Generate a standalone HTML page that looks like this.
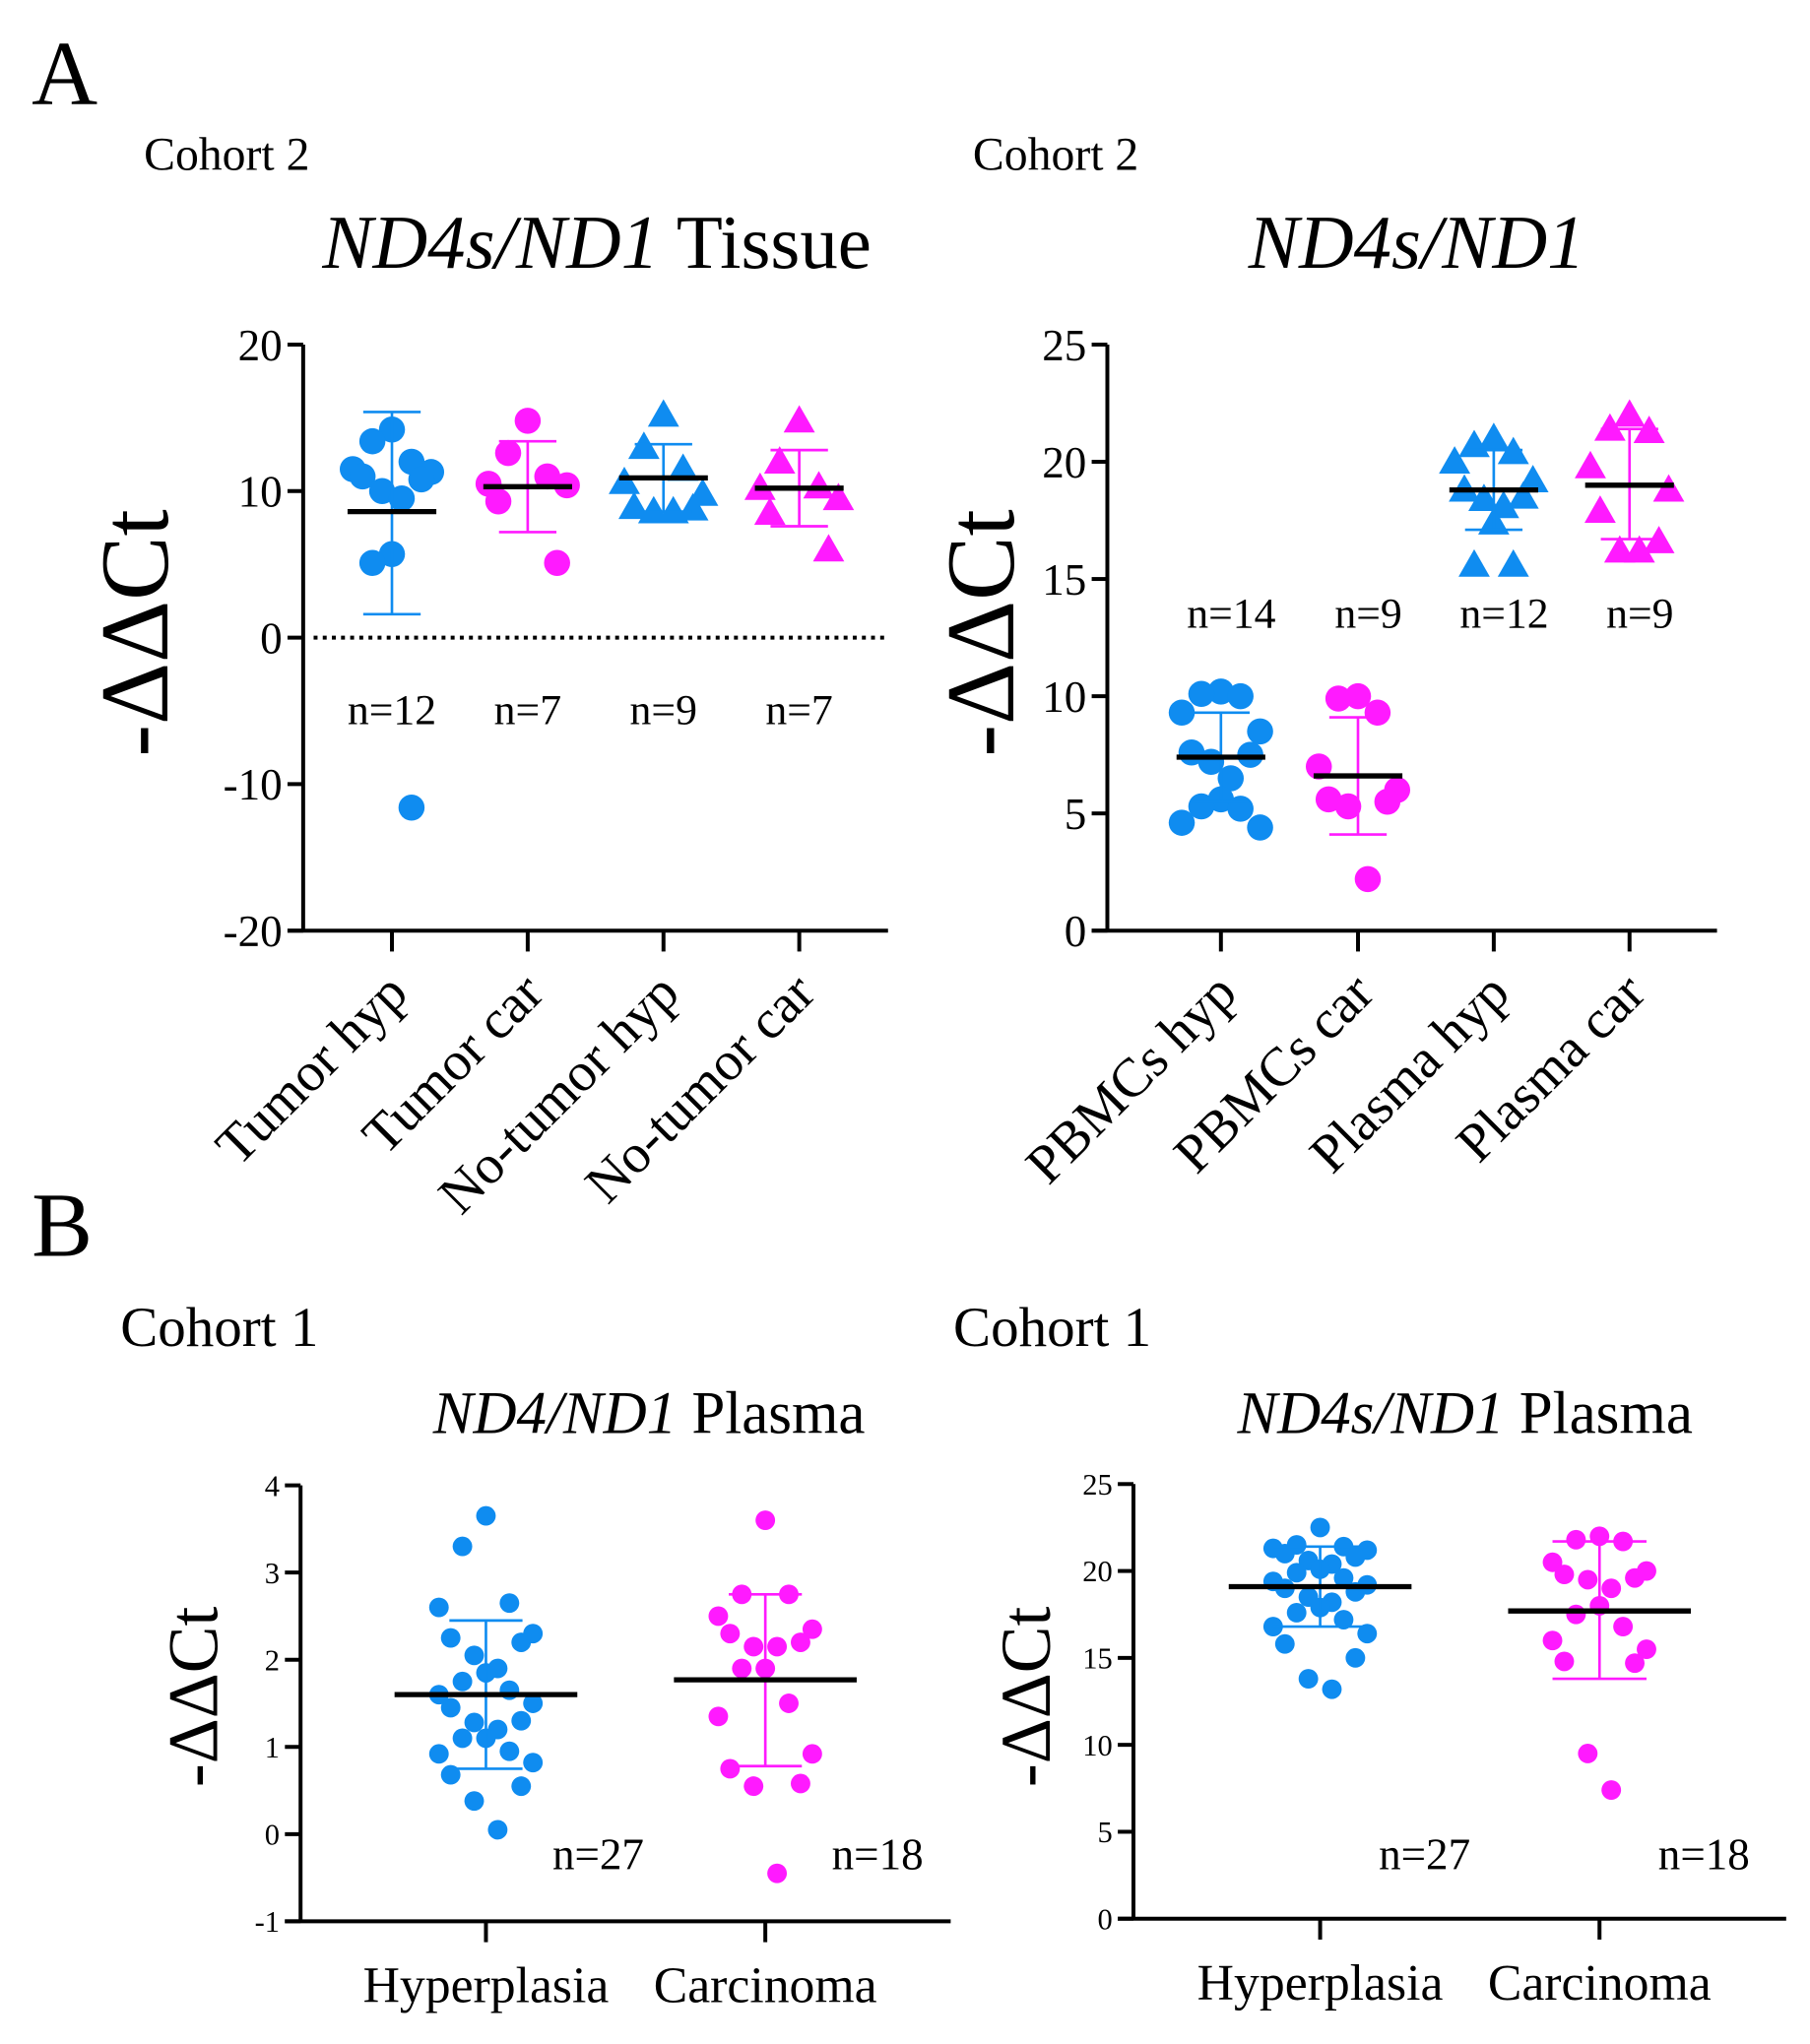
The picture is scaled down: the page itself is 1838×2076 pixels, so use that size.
<!DOCTYPE html>
<html><head><meta charset="utf-8"><style>
html,body{margin:0;padding:0;background:#fff}
svg{display:block}
text{font-family:"Liberation Serif","DejaVu Serif",serif;fill:#000}
</style></head><body>
<svg id="fig" width="1838" height="2076" viewBox="0 0 1386 1566" xmlns="http://www.w3.org/2000/svg">
<text x="24" y="80" font-size="70">A</text>
<text x="24" y="962" font-size="70">B</text>
<text x="110" y="130" font-size="36">Cohort 2</text>
<text x="745" y="130" font-size="36">Cohort 2</text>
<text x="92" y="1031" font-size="43">Cohort 1</text>
<text x="730" y="1031" font-size="43">Cohort 1</text>
<text x="457" y="205" font-size="58" text-anchor="middle"><tspan font-style="italic">ND4s/ND1</tspan> Tissue</text>
<text x="1085" y="205" font-size="58" text-anchor="middle" font-style="italic">ND4s/ND1</text>
<text x="497" y="1098" font-size="46" text-anchor="middle"><tspan font-style="italic">ND4/ND1</tspan> Plasma</text>
<text x="1122" y="1098" font-size="46" text-anchor="middle"><tspan font-style="italic">ND4s/ND1</tspan> Plasma</text>
<g id="charts"></g>
</svg>
<script>
// Panel A left
const a1Cats=["Tumor hyp","Tumor car","No-tumor hyp","No-tumor car"];
const a1Ticks=[20,10,0,-10,-20];
const a1Vals=[
 [14.2,13.4,12.0,11.5,11.3,11.0,10.8,10.0,9.5,5.7,5.1,-11.6],
 [14.8,12.6,11.0,10.5,10.4,9.3,5.1],
 [15.2,13.0,11.5,10.6,9.8,8.9,8.8,8.6,8.6],
 [14.8,12.0,10.3,10.2,9.5,8.5,6.0]];
const a1Means=[8.6,10.3,10.9,10.2];
const a1Lo=[1.6,7.2,8.6,7.6];
const a1Hi=[15.4,13.4,13.2,12.8];
const a1N=["n=12","n=7","n=9","n=7"];
// Panel A right
const a2Cats=["PBMCs hyp","PBMCs car","Plasma hyp","Plasma car"];
const a2Ticks=[25,20,15,10,5,0];
const a2Vals=[
 [10.2,10.1,10.0,9.3,8.5,7.6,7.5,7.2,6.5,5.6,5.3,5.2,4.6,4.4],
 [10.0,9.9,9.3,7.0,6.0,5.6,5.5,5.3,2.2],
 [21.0,20.7,20.4,20.0,19.2,18.8,18.5,18.4,18.1,17.4,15.6,15.6],
 [22.0,21.4,21.3,19.8,18.8,17.9,16.6,16.2,16.2]];
const a2Means=[7.4,6.6,18.8,19.0];
const a2Lo=[5.5,4.1,17.1,16.7];
const a2Hi=[9.3,9.1,20.5,21.4];
const a2N=["n=14","n=9","n=12","n=9"];
// Panel B left
const b1Cats=["Hyperplasia","Carcinoma"];
const b1Ticks=[4,3,2,1,0,-1];
const b1Vals=[
 [3.65,3.3,2.65,2.6,2.3,2.25,2.2,2.05,1.9,1.85,1.75,1.65,1.6,1.5,1.45,1.3,1.28,1.2,1.1,1.1,0.95,0.92,0.82,0.68,0.55,0.38,0.05],
 [3.6,2.75,2.75,2.5,2.35,2.3,2.2,2.15,2.15,1.9,1.9,1.5,1.35,0.92,0.75,0.58,0.55,-0.45]];
const b1Means=[1.6,1.77];
const b1Lo=[0.75,0.78];
const b1Hi=[2.45,2.75];
const b1N=["n=27","n=18"];
// Panel B right
const b2Cats=["Hyperplasia","Carcinoma"];
const b2Ticks=[25,20,15,10,5,0];
const b2Vals=[
 [22.5,21.5,21.4,21.3,21.2,21.0,20.8,20.6,20.4,20.1,19.9,19.6,19.4,19.2,19.0,18.8,18.5,18.2,17.9,17.6,17.2,16.8,16.4,15.8,15.0,13.8,13.2],
 [22.0,21.8,21.7,20.5,20.0,19.8,19.6,19.5,19.0,18.0,17.5,16.8,16.0,15.5,14.8,14.7,9.5,7.4]];
const b2Means=[19.1,17.7];
const b2Lo=[16.8,13.8];
const b2Hi=[21.4,21.7];
const b2N=["n=27","n=18"];

const BLUE="#0f8cf0", MAG="#ff1aff";
const NS="http://www.w3.org/2000/svg";
const root=document.getElementById('charts');
function mk(tag,attrs,parent){const e=document.createElementNS(NS,tag);for(const k in attrs)e.setAttribute(k,attrs[k]);(parent||root).appendChild(e);return e;}

function chart(o){
 const g=mk('g',{});
 
 
 const y=v=>o.y0+(o.ymax-v)/(o.ymax-o.ymin)*(o.y1-o.y0);
 const x=i=>o.cx[i];
 const ya=mk('line',{x1:o.ax,y1:o.y0,x2:o.ax,y2:o.y1,stroke:'#000','stroke-width':3},g);
 
 
 const xa=mk('line',{x1:o.ax-12,y1:o.y1,x2:o.xend,y2:o.y1,stroke:'#000','stroke-width':3},g);
 
 
 o.ticks.forEach(t=>{
  mk('line',{x1:o.ax-12,y1:y(t),x2:o.ax,y2:y(t),stroke:'#000','stroke-width':3},g);
  const tl=mk('text',{x:o.ax-16,y:y(t)+o.tfs*0.35,'font-size':o.tfs,'text-anchor':'end'},g);
  tl.textContent=t;
  
  
 });
 if(o.dotted){const d=mk('line',{x1:o.ax+8,y1:y(0),x2:o.xend,y2:y(0),stroke:'#000','stroke-width':3,'stroke-dasharray':'3 4'},g);
  
  }
 const yl=mk('text',{x:0,y:0,'font-size':o.yfs,'text-anchor':'middle',transform:`translate(${o.ylx},${o.yly}) rotate(-90)`},g);
 yl.textContent='-ΔΔCt';
 
 
 o.cats.forEach((c,i)=>{
  mk('line',{x1:x(i),y1:o.y1,x2:x(i),y2:o.y1+16,stroke:'#000','stroke-width':3},g);
  let t;
  if(o.rot){t=mk('text',{x:0,y:0,'font-size':o.cfs,'text-anchor':'end',transform:`translate(${x(i)+14},${o.y1+50}) rotate(-45)`},g);}
  else{t=mk('text',{x:x(i),y:o.y1+62,'font-size':o.cfs,'text-anchor':'middle'},g);}
  t.textContent=c;
  
  
  const col=o.colors[i];
  const vals=o.vals[i];
  vals.forEach((v,j)=>{
   const pat=[0,-1,1,-2,2,-1.5,1.5,-0.5,0.5];
   const dx=pat[j%pat.length]*o.jit;
   let p;
   if(o.shapes[i]==='tri'){
    const r=o.r*1.2, cx=x(i)+dx, cy=y(v);
    p=mk('polygon',{points:`${cx},${cy-r} ${cx-r},${cy+r*0.75} ${cx+r},${cy+r*0.75}`,fill:col},g);
   } else p=mk('circle',{cx:x(i)+dx,cy:y(v),r:o.r,fill:col},g);
   
   
  });
  const eb=mk('g',{stroke:col,'stroke-width':2},g);
  
  
  mk('line',{x1:x(i),y1:y(o.lo[i]),x2:x(i),y2:y(o.hi[i])},eb);
  mk('line',{x1:x(i)-o.cap,y1:y(o.lo[i]),x2:x(i)+o.cap,y2:y(o.lo[i])},eb);
  mk('line',{x1:x(i)-o.cap,y1:y(o.hi[i]),x2:x(i)+o.cap,y2:y(o.hi[i])},eb);
  const m=mk('line',{x1:x(i)-o.mw,y1:y(o.means[i]),x2:x(i)+o.mw,y2:y(o.means[i]),stroke:'#000','stroke-width':4},g);
  
  
  const n=mk('text',{x:x(i)+o.nx,y:o.ny,'font-size':o.nfs,'text-anchor':'middle'},g);
  n.textContent=o.n[i];
  
  
 });
}
chart({name:'chart-tissue',ax:232,y0:264,y1:713,ymax:20,ymin:-20,xend:680,cx:[300,404,508,612],ticks:a1Ticks,cats:a1Cats,vals:a1Vals,means:a1Means,lo:a1Lo,hi:a1Hi,n:a1N,
 colors:[BLUE,MAG,BLUE,MAG],shapes:['c','c','tri','tri'],r:10,jit:15,cap:22,mw:34,nx:0,ny:555,nfs:33,tfs:34,yfs:74,ylx:128,yly:485,dotted:true,rot:true,cfs:42});
chart({name:'chart-pbmc-plasma',ax:848,y0:264,y1:713,ymax:25,ymin:0,xend:1315,cx:[935,1040,1144,1248],ticks:a2Ticks,cats:a2Cats,vals:a2Vals,means:a2Means,lo:a2Lo,hi:a2Hi,n:a2N,
 colors:[BLUE,MAG,BLUE,MAG],shapes:['c','c','tri','tri'],r:10,jit:15,cap:22,mw:34,nx:8,ny:481,nfs:33,tfs:34,yfs:74,ylx:776,yly:485,dotted:false,rot:true,cfs:42});
chart({name:'chart-nd4-plasma',ax:230,y0:1138,y1:1472,ymax:4,ymin:-1,xend:728,cx:[372,586],ticks:b1Ticks,cats:b1Cats,vals:b1Vals,means:b1Means,lo:b1Lo,hi:b1Hi,n:b1N,
 colors:[BLUE,MAG],shapes:['c','c'],r:7.5,jit:18,cap:28,mw:70,nx:86,ny:1432,nfs:34,tfs:23,yfs:54,ylx:166,yly:1300,dotted:false,rot:false,cfs:39});
chart({name:'chart-nd4s-plasma',ax:868,y0:1137,y1:1470,ymax:25,ymin:0,xend:1368,cx:[1011,1225],ticks:b2Ticks,cats:b2Cats,vals:b2Vals,means:b2Means,lo:b2Lo,hi:b2Hi,n:b2N,
 colors:[BLUE,MAG],shapes:['c','c'],r:7.5,jit:18,cap:36,mw:70,nx:80,ny:1432,nfs:34,tfs:23,yfs:54,ylx:804,yly:1300,dotted:false,rot:false,cfs:39});
</script>
</body></html>
